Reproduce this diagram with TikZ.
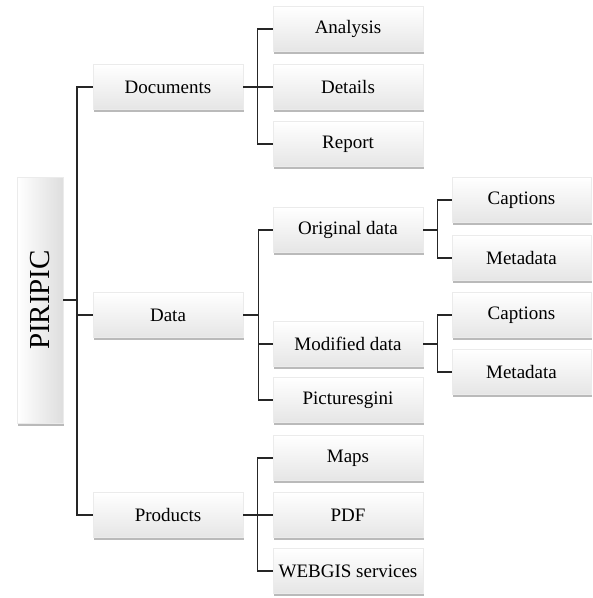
\documentclass[tikz,border=0pt]{standalone}
\usepackage{fontspec}
\setmainfont{Liberation Serif}
\usetikzlibrary{shadows}

\begin{document}
\begin{tikzpicture}[x=1pt,y=-1pt,
    box/.style={shade, top color=white, bottom color=black!10, draw=black!8, line width=0.4pt,
        drop shadow={shadow xshift=0.5pt, shadow yshift=-2.5pt, opacity=0.45, fill=black!60},
        minimum width=150pt, minimum height=45pt, inner sep=0pt, font=\fontsize{19}{22}\selectfont},
    leaf/.style={box, minimum width=139pt},
    link/.style={line width=1.3pt, black!85}]
    \useasboundingbox (0,0) rectangle (593,598);
    \node[box, minimum width=46pt, minimum height=246pt, left color=white, right color=black!13,
        font=\fontsize{29}{32}\selectfont] (piripic) at (40,300) {\rotatebox{90}{PIRIPIC}};   %root
    \coordinate (trunk) at (77,300);
    % first level
    \node[box] (documents) at (168,87) {Documents};
    \node[box] (data) at (168,315) {Data};
    \node[box] (products) at (168,515) {Products};
    % second level
    \node[box] (analysis) at (348,29) {Analysis};
    \node[box] (details) at (348,87) {Details};
    \node[box] (report) at (348,144) {Report};
    \node[box] (original) at (348,230) {Original data};
    \node[box] (modified) at (348,344) {Modified data};
    \node[box] (pictures) at (348,400) {Picturesgini};
    \node[box] (maps) at (348,458) {Maps};
    \node[box] (pdf) at (348,515) {PDF};
    \node[box] (webgis) at (348,571) {WEBGIS services};
    % third level
    \node[leaf] (captionsA) at (521.5,200) {Captions};
    \node[leaf] (metadataA) at (521.5,258) {Metadata};
    \node[leaf] (captionsB) at (521.5,315) {Captions};
    \node[leaf] (metadataB) at (521.5,372) {Metadata};
    % connectors
    \draw[link] (piripic.east) -- (trunk);
    \foreach \n in {documents,data,products}
        \draw[link] (\n.west) -| (trunk);
    \foreach \n in {analysis,details,report}
        \draw[link] (documents.east) -- ++(14,0) |- (\n.west);
    \foreach \n in {original,modified,pictures}
        \draw[link] (data.east) -- ++(15,0) |- (\n.west);
    \foreach \n in {maps,pdf,webgis}
        \draw[link] (products.east) -- ++(14,0) |- (\n.west);
    \foreach \n in {captionsA,metadataA}
        \draw[link] (original.east) -- ++(14,0) |- (\n.west);
    \foreach \n in {captionsB,metadataB}
        \draw[link] (modified.east) -- ++(14,0) |- (\n.west);
\end{tikzpicture}
\end{document}
